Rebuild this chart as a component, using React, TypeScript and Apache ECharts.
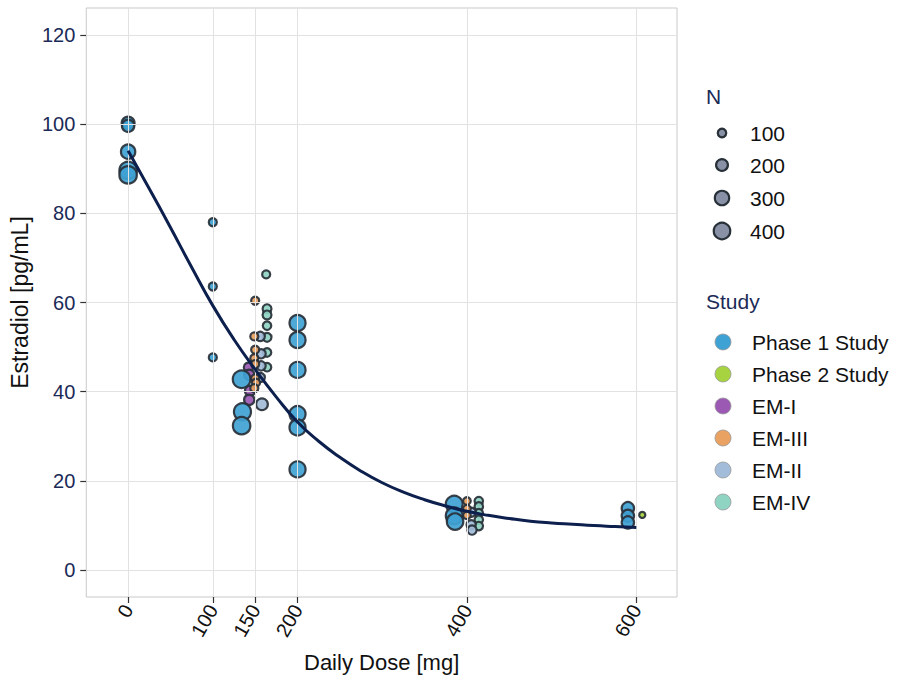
import React, { useEffect, useRef } from "react";
import * as echarts from "echarts";

// ---- data ----
const xTicks = [0, 100, 150, 200, 400, 600];
const yTicks = [0, 20, 40, 60, 80, 100, 120];

const phase1Dose = [0, 0, 0, 0, 0, 100, 100, 100, 134, 135, 134, 200, 200, 200, 200, 200, 200, 385, 385, 386, 590, 590, 590];
const phase1Value = [100.2, 99.6, 93.8, 89.6, 88.6, 78.0, 63.6, 47.7, 42.8, 35.5, 32.4, 55.4, 51.6, 44.9, 35.0, 32.0, 22.6, 14.8, 12.2, 10.9, 13.9, 12.2, 10.7];
const phase1N = [240, 220, 300, 450, 450, 90, 90, 90, 460, 430, 450, 380, 380, 380, 380, 380, 380, 420, 420, 400, 220, 220, 220];

const phase2Dose = [607];
const phase2Value = [12.4];
const phase2N = [50];

const em1Dose = [142, 143, 144, 143];
const em1Value = [45.5, 43.8, 40.2, 38.2];
const em1N = [120, 150, 150, 150];

const em3Dose = [150, 149, 150, 149, 150, 150, 151, 149, 400, 400, 400];
const em3Value = [60.4, 52.4, 49.4, 47.5, 46.2, 43.0, 42.0, 40.8, 15.5, 13.8, 12.3];
const em3N = [90, 90, 90, 90, 90, 90, 90, 90, 80, 80, 80];

const em2Dose = [156, 157, 157, 156, 158, 405, 405, 406];
const em2Value = [52.4, 48.5, 45.8, 43.2, 37.2, 13.0, 10.2, 9.0];
const em2N = [120, 120, 120, 120, 200, 120, 120, 120];

const em4Dose = [163, 164, 164, 164, 164, 164, 164, 414, 414, 414, 414, 414];
const em4Value = [66.3, 58.6, 57.2, 54.8, 52.2, 48.8, 45.5, 15.5, 14.3, 12.8, 11.3, 9.9];
const em4N = [90, 110, 110, 100, 110, 100, 100, 100, 100, 100, 100, 100];

const curveDose = [0, 25, 50, 75, 100, 125, 150, 175, 200, 225, 250, 275, 300, 325, 350, 375, 400, 425, 450, 475, 500, 525, 550, 575, 600];
const curveValue = [94, 85.5, 76.8, 67.9, 59.3, 51.7, 45.0, 38.8, 33.2, 28.9, 25.3, 22.2, 19.6, 17.5, 15.8, 14.4, 13.2, 12.3, 11.6, 11.0, 10.6, 10.3, 10.0, 9.8, 9.6];

const sizeLegendN = [100, 200, 300, 400];
const studyNames = ["Phase 1 Study", "Phase 2 Study", "EM-I", "EM-III", "EM-II", "EM-IV"];
const studyColors = ["#3fa2d4", "#a6d33f", "#9b59b3", "#e9a262", "#a3bcd9", "#8fd3c2"];

const FONT = "Liberation Sans, Arial, Helvetica, sans-serif";
const NAVY = "#1b2a57";

const zip = (d: number[], v: number[], n: number[]) => d.map((x, i) => [x, v[i], n[i]]);
const sizeOf = (n: number) => 0.8 * Math.sqrt(n) + 0.5;

export default function App() {
  const ref = useRef<HTMLDivElement>(null);
  useEffect(() => {
    if (!ref.current) return;
    const chart = echarts.init(ref.current, undefined, { renderer: "svg" });

    const studyData = [
      zip(phase1Dose, phase1Value, phase1N),
      zip(phase2Dose, phase2Value, phase2N),
      zip(em1Dose, em1Value, em1N),
      zip(em3Dose, em3Value, em3N),
      zip(em2Dose, em2Value, em2N),
      zip(em4Dose, em4Value, em4N),
    ];
    const drawOrder = [5, 4, 2, 3, 0, 1];

    const scatterSeries = drawOrder.map((i) => ({
      type: "scatter",
      name: studyNames[i],
      data: studyData[i],
      z: 2,
      symbol: "circle",
      symbolSize: (val: number[]) => sizeOf(val[2]),
      itemStyle: {
        color: studyColors[i],
        opacity: 0.92,
        borderColor: "#283038",
        borderWidth: 2.2,
      },
    }));

    const grid = { left: 84, right: 222, top: 8, bottom: 85 };

    const graphics: any[] = [];
    graphics.push({
      type: "text",
      left: 706,
      top: 86,
      style: { text: "N", fontSize: 21, fontFamily: FONT, fill: NAVY },
    });
    const nY = [133, 165, 198, 231];
    sizeLegendN.forEach((n, i) => {
      graphics.push({
        type: "circle",
        shape: { cx: 722, cy: nY[i], r: sizeOf(n) / 2 },
        style: { fill: "#8891a6", stroke: "#283038", lineWidth: 2.2 },
      });
      graphics.push({
        type: "text",
        x: 750,
        y: nY[i],
        style: { text: String(n), fontSize: 21, fontFamily: FONT, fill: "#111", verticalAlign: "middle" },
      });
    });
    graphics.push({
      type: "text",
      left: 706,
      top: 291,
      style: { text: "Study", fontSize: 21, fontFamily: FONT, fill: NAVY },
    });
    const sY = [342, 374, 406, 438, 470, 502];
    studyNames.forEach((name, i) => {
      graphics.push({
        type: "circle",
        shape: { cx: 723, cy: sY[i], r: 8 },
        style: { fill: studyColors[i], stroke: "#9a9a9a", lineWidth: 0.8 },
      });
      graphics.push({
        type: "text",
        x: 752,
        y: sY[i],
        style: { text: name, fontSize: 21, fontFamily: FONT, fill: "#111", verticalAlign: "middle" },
      });
    });

    chart.setOption({
      animation: false,
      backgroundColor: "#ffffff",
      grid: { ...grid, show: true, borderColor: "#c9c9c9", borderWidth: 1, backgroundColor: "#ffffff" },
      xAxis: {
        type: "value",
        min: -49.4,
        max: 648,
        name: "Daily Dose [mg]",
        nameLocation: "middle",
        nameGap: 54,
        nameTextStyle: { fontSize: 22, fontFamily: FONT, color: "#111" },
        axisLine: { show: false, onZero: false },
        splitLine: { show: false },
        axisTick: { show: true, customValues: xTicks, length: 6, lineStyle: { color: "#333", width: 1.2 } },
        axisLabel: {
          customValues: xTicks,
          rotate: 60,
          fontSize: 20,
          fontFamily: FONT,
          color: "#111",
          margin: 9,
        },
      },
      yAxis: {
        type: "value",
        min: -6,
        max: 126,
        name: "Estradiol [pg/mL]",
        nameLocation: "middle",
        nameGap: 46,
        nameTextStyle: { fontSize: 23, fontFamily: FONT, color: "#111" },
        axisLine: { show: false, onZero: false },
        splitLine: { show: false },
        axisTick: { show: true, customValues: yTicks, length: 6, lineStyle: { color: "#333", width: 1.2 } },
        axisLabel: {
          customValues: yTicks,
          fontSize: 20,
          fontFamily: FONT,
          color: NAVY,
          margin: 11,
        },
      },
      series: [
        {
          type: "scatter",
          data: [],
          z: 1,
          silent: true,
          markLine: {
            silent: true,
            symbol: ["none", "none"],
            label: { show: false },
            lineStyle: { color: "#e2e2e2", width: 1, type: "solid" },
            data: [
              ...xTicks.map((v) => ({ xAxis: v })),
              ...yTicks.map((v) => ({ yAxis: v })),
            ],
          },
        },
        ...scatterSeries,
        {
          type: "line",
          name: "fit",
          data: curveDose.map((d, i) => [d, curveValue[i]]),
          smooth: true,
          showSymbol: false,
          z: 5,
          lineStyle: { color: "#0c1f4d", width: 3 },
          itemStyle: { color: "#0c1f4d" },
        },
      ],
      graphic: graphics,
    });
    return () => chart.dispose();
  }, []);
  return (
    <div
      ref={ref}
      style={{ position: "absolute", left: 0, top: 0, width: 899, height: 682 }}
    />
  );
}
